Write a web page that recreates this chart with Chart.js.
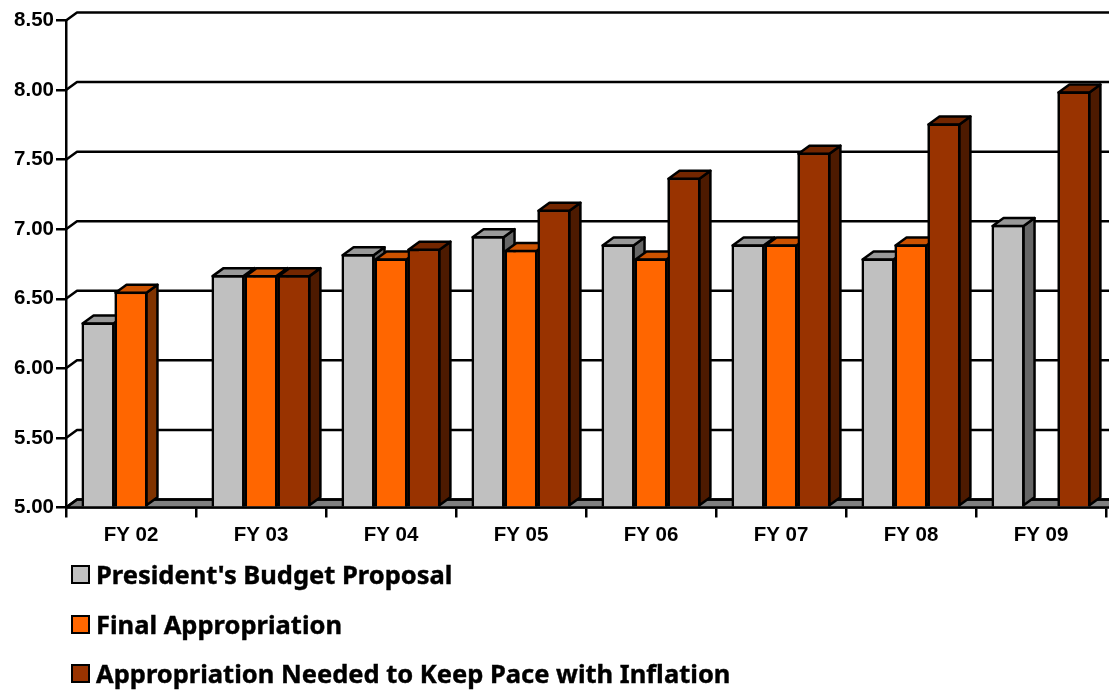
<!DOCTYPE html>
<html>
<head>
<meta charset="utf-8">
<style>
  html, body { margin: 0; padding: 0; background: #fff; overflow: hidden; }
  #wrap { position: relative; width: 1109px; height: 690px; }
  .row { position: absolute; left: 71px; height: 19px; display: flex; align-items: center;
         font: bold 25.5px "Noto Sans", sans-serif; color: #000; white-space: nowrap;
         -webkit-text-stroke: 0.4px #000; }
  .row span.label { position: relative; top: -1px; }
  .box { width: 15px; height: 15px; border: 2px solid #000; margin-right: 6px; }
</style>
<script src="https://cdn.jsdelivr.net/npm/chart.js@4"></script>
</head>
<body>
<div id="wrap">
  <canvas id="chart" width="1109" height="690"></canvas>
</div>
<script>
const categories = ['FY 02', 'FY 03', 'FY 04', 'FY 05', 'FY 06', 'FY 07', 'FY 08', 'FY 09'];
const proposal = [6.33, 6.67, 6.82, 6.95, 6.89, 6.89, 6.79, 7.03];
const finalApprop = [6.55, 6.67, 6.79, 6.85, 6.79, 6.89, 6.89, null];
const inflation = [null, 6.67, 6.86, 7.14, 7.37, 7.55, 7.76, 7.99];

const seriesNames = ["President's Budget Proposal", 'Final Appropriation', 'Appropriation Needed to Keep Pace with Inflation'];
const fronts = ['#C0C0C0', '#FF6600', '#993300'];
const tops = ['#999999', '#CC5200', '#732600'];
const sides = ['#666666', '#803300', '#4D1A00'];

const DX = 11, DY = 8;
const LINE = 2.5;

function poly(ctx, pts, fill) {
  ctx.beginPath();
  pts.forEach((p, i) => i ? ctx.lineTo(p[0], p[1]) : ctx.moveTo(p[0], p[1]));
  ctx.closePath();
  if (fill) { ctx.fillStyle = fill; ctx.fill(); }
  ctx.stroke();
}

// back wall lines and floor, behind the bars
const wall = {
  id: 'wall',
  beforeDatasetsDraw(chart) {
    const { ctx, scales: { y }, chartArea: a } = chart;
    ctx.save();
    ctx.strokeStyle = '#000';
    ctx.lineWidth = LINE;
    ctx.lineJoin = 'round';
    poly(ctx, [[a.left, a.bottom], [a.left + DX, a.bottom - DY], [1120, a.bottom - DY], [1120, a.bottom]], '#808080');
    y.ticks.forEach(t => {
      const py = y.getPixelForValue(t.value);
      ctx.beginPath();
      ctx.moveTo(a.left, py);
      ctx.lineTo(a.left + DX, py - DY);
      ctx.lineTo(1109, py - DY);
      ctx.stroke();
    });
    ctx.restore();
  },
  // side and top faces, then the front again so neighbours overlap properly
  afterDatasetsDraw(chart) {
    const { ctx } = chart;
    ctx.save();
    ctx.strokeStyle = '#000';
    ctx.lineWidth = LINE;
    ctx.lineJoin = 'round';
    chart.data.datasets.forEach((ds, i) => {
      chart.getDatasetMeta(i).data.forEach((bar, j) => {
        if (ds.data[j] === null) return;
        const hw = bar.width / 2;
        const l = bar.x - hw + 1, r = bar.x + hw - 1, t = bar.y + 1, b = bar.base - 1;
        poly(ctx, [[r, t], [r + DX, t - DY], [r + DX, b - DY], [r, b]], sides[i]);
        poly(ctx, [[l, t], [l + DX, t - DY], [r + DX, t - DY], [r, t]], tops[i]);
        bar.draw(ctx);
      });
    });
    ctx.restore();
  }
};

const tickFont = { family: '"Liberation Sans", sans-serif', size: 20.5, weight: 'bold' };

new Chart(document.getElementById('chart'), {
  type: 'bar',
  data: {
    labels: categories,
    datasets: [proposal, finalApprop, inflation].map((vals, i) => ({
      label: seriesNames[i],
      data: vals,
      base: 5,
      backgroundColor: fronts[i],
      borderColor: '#000',
      borderWidth: LINE,
      categoryPercentage: 0.76,
      barPercentage: 1
    }))
  },
  options: {
    responsive: false,
    animation: false,
    layout: { padding: { top: 20.5, right: 3 } },
    plugins: { legend: { display: false }, tooltip: { enabled: false } },
    scales: {
      x: {
        afterFit(s) { s.height = 182.5; },
        grid: { drawOnChartArea: false, color: '#000', lineWidth: LINE, tickLength: 10 },
        border: { color: '#000', width: LINE },
        ticks: { color: '#000', font: tickFont, padding: 6, maxRotation: 0 }
      },
      y: {
        min: 5,
        max: 8.5,
        afterFit(s) { s.width = 66; },
        grid: { drawOnChartArea: false, color: '#000', lineWidth: LINE, tickLength: 10 },
        border: { color: '#000', width: LINE },
        ticks: { color: '#000', font: tickFont, stepSize: 0.5, padding: 2, callback: v => v.toFixed(2) }
      }
    }
  },
  plugins: [wall]
});

// legend rows
const rowTops = [565, 615, 664];
seriesNames.forEach((name, i) => {
  const row = document.createElement('div');
  row.className = 'row';
  row.style.top = rowTops[i] + 'px';
  const box = document.createElement('span');
  box.className = 'box';
  box.style.background = fronts[i];
  const label = document.createElement('span');
  label.className = 'label';
  label.textContent = name;
  row.appendChild(box);
  row.appendChild(label);
  document.getElementById('wrap').appendChild(row);
});
</script>
</body>
</html>
